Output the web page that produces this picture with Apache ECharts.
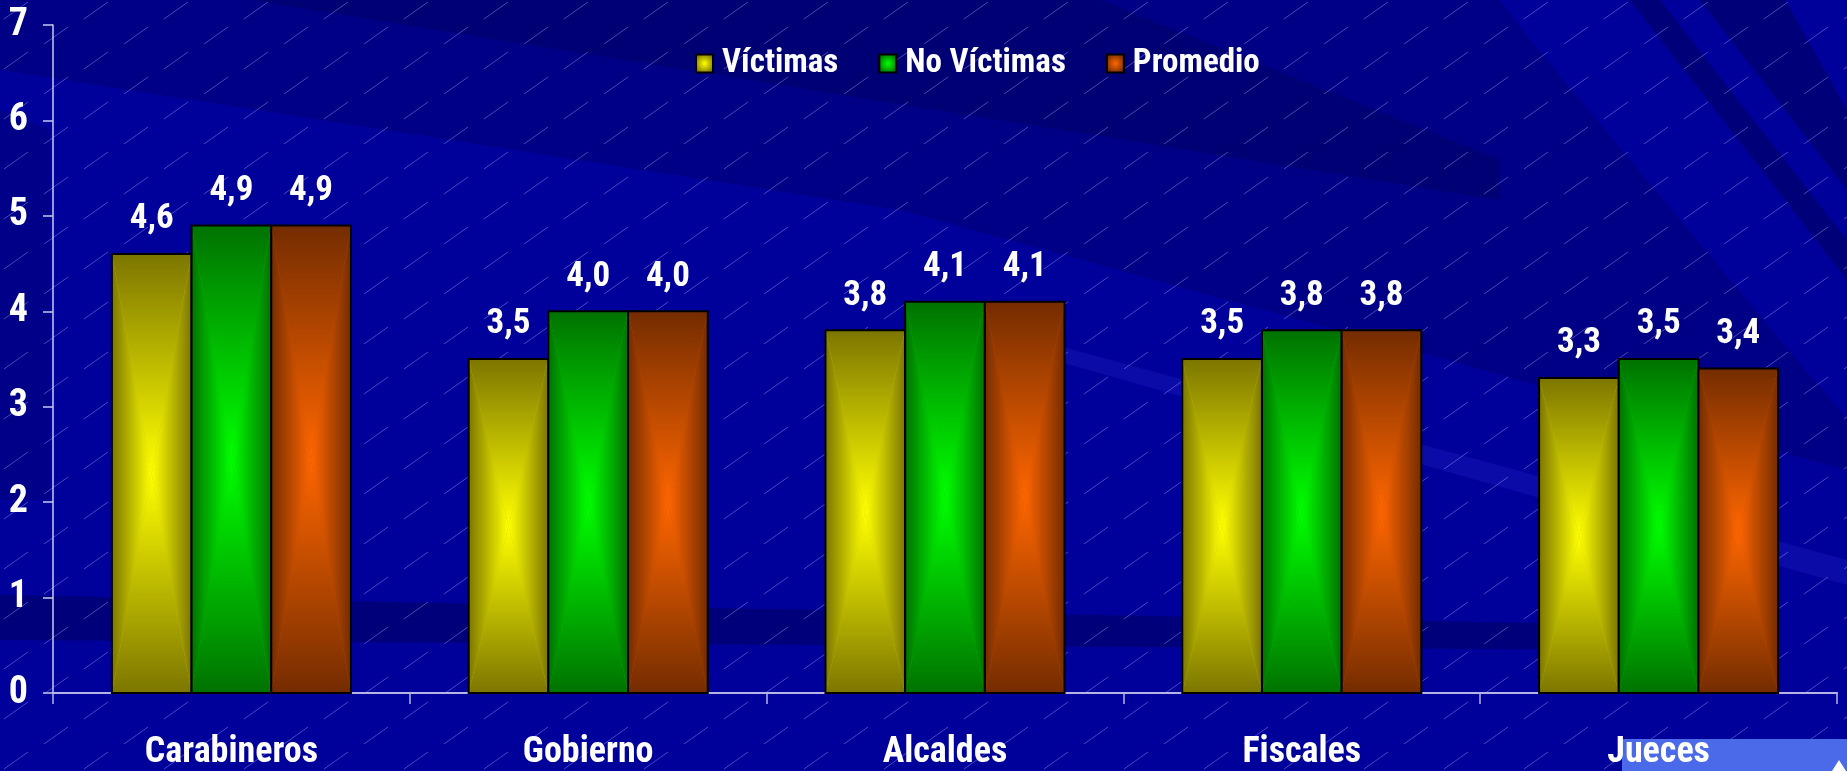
<!DOCTYPE html>
<html>
<head>
<meta charset="utf-8">
<script src="https://cdn.jsdelivr.net/npm/echarts@6/dist/echarts.min.js"></script>
<style>
  html, body { margin: 0; padding: 0; background: #000090; }
  #chart { width: 1847px; height: 771px; }
</style>
</head>
<body>
<div id="chart"></div>
<script>
var categories = ["Carabineros", "Gobierno", "Alcaldes", "Fiscales", "Jueces"];
var victimas = [4.6, 3.5, 3.8, 3.5, 3.3];
var noVictimas = [4.9, 4.0, 4.1, 3.8, 3.5];
var promedio = [4.9, 4.0, 4.1, 3.8, 3.4];
var seriesNames = ["Víctimas", "No Víctimas", "Promedio"];
var yMin = 0, yMax = 7, yStep = 1;

// Roboto with the condensed width looks like the narrow slide font
var FONT = "Roboto";
var STRETCH = "condensed";

// edge / center colours of the "from centre" bar fill
var palette = [
  { edge: "#7c7600", center: "#ffff00", mid: "#c4c000" },
  { edge: "#007200", center: "#00ff00", mid: "#00bc00" },
  { edge: "#742c00", center: "#ff6600", mid: "#c04c00" }
];

// slide background: blue with diagonal bands and little dashes
var bg =
  '<svg xmlns="http://www.w3.org/2000/svg" width="1847" height="771">' +
  '<defs>' +
  '<pattern id="dash" width="80" height="50" patternUnits="userSpaceOnUse">' +
  '<path d="M4 19 L28 2 M44 44 L68 27" stroke="#b0b0ff" stroke-opacity="0.4" stroke-width="1"/>' +
  '</pattern>' +
  '</defs>' +
  '<rect width="1847" height="771" fill="#00009a"/>' +
  '<polygon points="0,0 1500,0 1530,40 1847,420 1847,470 900,210 0,70" fill="#000060" fill-opacity="0.35"/>' +
  '<polygon points="250,0 1100,0 1500,160 1500,200" fill="#000050" fill-opacity="0.3"/>' +
  '<polygon points="0,110 0,500 50,500 50,130" fill="#000060" fill-opacity="0.3"/>' +
  '<polygon points="0,595 0,640 1650,650 1650,625" fill="#000060" fill-opacity="0.55"/>' +
  '<polygon points="1000,330 1847,560 1847,585 1000,345" fill="#2020c0" fill-opacity="0.35"/>' +
  '<polygon points="1630,0 1660,0 1847,240 1847,280" fill="#000070" fill-opacity="0.8"/>' +
  '<polygon points="1700,0 1785,0 1847,110 1847,190" fill="#000070" fill-opacity="0.8"/>' +
  '<rect width="1847" height="771" fill="url(#dash)"/>' +
  '<rect x="1622" y="739" width="225" height="32" fill="#4a6aea"/>' +
  '<path d="M1832 771 L1839 760 L1846 771 Z" fill="#ffffff"/>' +
  '</svg>';
document.getElementById("chart").style.backgroundImage =
  'url("data:image/svg+xml,' + encodeURIComponent(bg) + '")';

function fmt(v) {
  return v.toFixed(1).replace(".", ",");
}

function makeRender(idx) {
  var c = palette[idx];
  function grad(x, y, x2, y2) {
    return new echarts.graphic.LinearGradient(x, y, x2, y2, [
      { offset: 0, color: c.edge },
      { offset: 1, color: c.center }
    ]);
  }
  return function (params, api) {
    var cat = api.value(0);
    var val = api.value(1);
    var base = api.coord([cat, 0]);
    var top = api.coord([cat, val]);
    var band = api.size([1, 0])[0];
    var bw = band * 0.67 / 3;
    var x0 = base[0] - bw * 1.5 + idx * bw;
    var x1 = x0 + bw;
    var y0 = top[1], y1 = base[1];
    var cx = (x0 + x1) / 2, cy = (y0 + y1) / 2;
    return {
      type: "group",
      children: [
        { type: "rect", shape: { x: x0, y: y0, width: bw, height: y1 - y0 }, style: { fill: c.mid } },
        { type: "polygon", shape: { points: [[x0, y0], [x1, y0], [cx, cy]] }, style: { fill: grad(0, 0, 0, 1) } },
        { type: "polygon", shape: { points: [[x0, y1], [x1, y1], [cx, cy]] }, style: { fill: grad(0, 1, 0, 0) } },
        { type: "polygon", shape: { points: [[x0, y0], [cx, cy], [x0, y1]] }, style: { fill: grad(0, 0, 1, 0) } },
        { type: "polygon", shape: { points: [[x1, y0], [cx, cy], [x1, y1]] }, style: { fill: grad(1, 0, 0, 0) } },
        { type: "rect", shape: { x: x0, y: y0, width: bw, height: y1 - y0 }, style: { fill: null, stroke: "#000", lineWidth: 2 } },
        {
          type: "text",
          x: cx,
          y: y0 - 17,
          style: {
            text: fmt(val),
            fill: "#fff",
            fontSize: 35,
            fontWeight: "bold",
            fontStyle: STRETCH,
            fontFamily: FONT,
            align: "center",
            verticalAlign: "bottom"
          }
        }
      ]
    };
  };
}

function toPairs(arr) {
  return arr.map(function (v, i) { return [i, v]; });
}

var allValues = [victimas, noVictimas, promedio];

var chart = echarts.init(document.getElementById("chart"));
var option = {
  backgroundColor: "transparent",
  animation: false,
  grid: { left: 53, right: 10, top: 25, bottom: 73 },
  legend: {
    left: 695,
    top: 47,
    padding: 0,
    itemGap: 40,
    itemWidth: 17,
    itemHeight: 18,
    icon: "rect",
    textStyle: {
      color: "#fff", fontSize: 33, fontWeight: "bold",
      fontStyle: STRETCH, fontFamily: FONT, padding: [0, 0, 0, 4]
    },
    data: seriesNames.map(function (n, i) {
      return {
        name: n,
        itemStyle: {
          color: new echarts.graphic.RadialGradient(0.5, 0.5, 0.55, [
            { offset: 0, color: palette[i].center },
            { offset: 1, color: palette[i].edge }
          ]),
          borderColor: "#000",
          borderWidth: 2
        }
      };
    })
  },
  xAxis: {
    type: "category",
    data: categories,
    axisLine: { lineStyle: { color: "#b4b4e6", width: 2 } },
    axisTick: { show: true, length: 11, lineStyle: { color: "#b4b4e6", width: 1.5 } },
    axisLabel: {
      color: "#fff", fontSize: 36, fontWeight: "bold",
      fontStyle: STRETCH, fontFamily: FONT, margin: 42
    }
  },
  yAxis: {
    type: "value",
    min: yMin,
    max: yMax,
    interval: yStep,
    axisLine: { show: true, lineStyle: { color: "#c8c8f0", width: 1.5 } },
    axisTick: { show: true, length: 10, lineStyle: { color: "#c8c8f0", width: 1.5 } },
    splitLine: { show: false },
    axisLabel: {
      color: "#fff", fontSize: 38, fontWeight: "bold",
      fontStyle: STRETCH, fontFamily: FONT, margin: 25
    }
  },
  series: allValues.map(function (vals, i) {
    return {
      name: seriesNames[i],
      type: "custom",
      renderItem: makeRender(i),
      itemStyle: { color: palette[i].center },
      encode: { x: 0, y: 1 },
      data: toPairs(vals)
    };
  })
};
chart.setOption(option);
</script>
</body>
</html>
